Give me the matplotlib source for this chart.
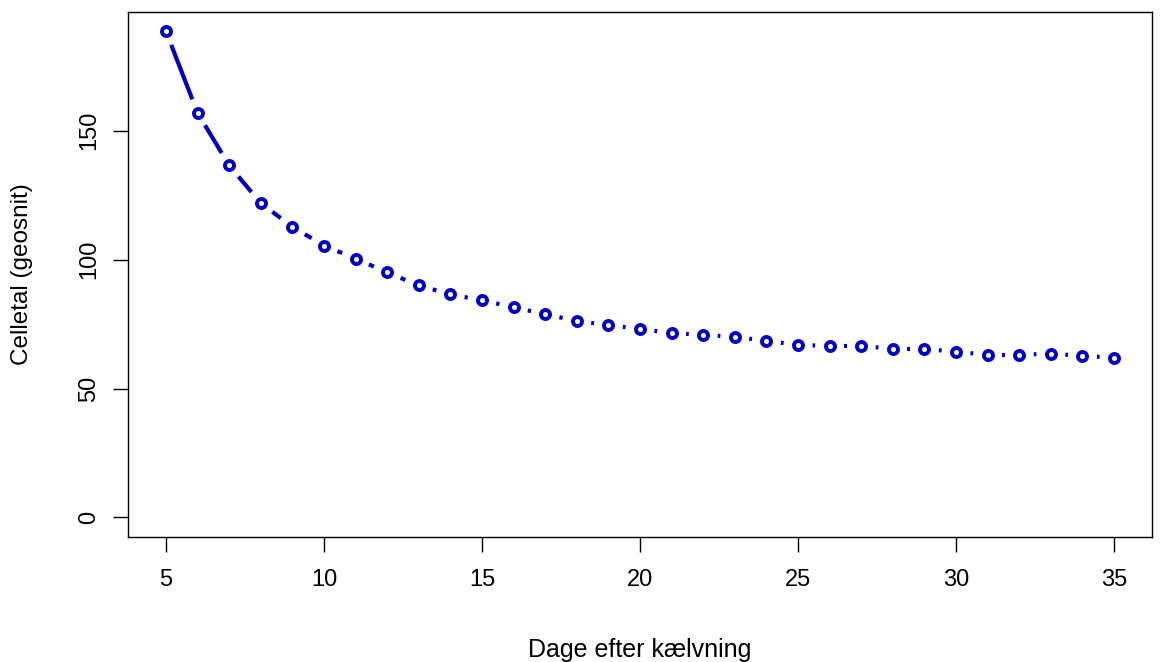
import numpy as np
import matplotlib
matplotlib.use("Agg")
import matplotlib.pyplot as plt

plt.rcParams['font.family'] = ['Liberation Sans', 'DejaVu Sans']

# Dage efter kælvning og celletal (geosnit)
dage = np.arange(5, 36)
celletal = [188.5, 156.9, 136.5, 121.9, 112.7, 105.4, 100.4, 95.0, 90.0, 86.5,
            84.2, 81.5, 78.8, 76.2, 74.6, 73.1, 71.5, 70.8, 70.0, 68.5,
            66.9, 66.5, 66.5, 65.4, 65.4, 64.2, 63.1, 63.1, 63.5, 62.7, 61.9]
x_ticks = [5, 10, 15, 20, 25, 30, 35]
y_ticks = [0, 50, 100, 150]

farve = '#0000CC'

fig = plt.figure(figsize=(11.66, 6.62), dpi=100)
ax = fig.add_axes([0.1098, 0.189, 0.988 - 0.1098, 0.982 - 0.189])

# R-agtige akser med 4% luft
xr = dage.max() - dage.min()
ax.set_xlim(dage.min() - 0.04 * xr, dage.max() + 0.04 * xr)
yr = max(celletal) - 0
ax.set_ylim(0 - 0.04 * yr, max(celletal) + 0.04 * yr)

# type="b": linjestykker mellem punkterne med et hul rundt om hvert punkt
ax.figure.canvas.draw()
pix = ax.transData.transform(np.column_stack([dage, celletal]))
gap = 14.5  # pixels
inv = ax.transData.inverted()
for i in range(len(pix) - 1):
    p0, p1 = pix[i], pix[i + 1]
    d = p1 - p0
    L = np.hypot(*d)
    if L <= 2 * gap:
        continue
    u = d / L
    a = inv.transform(p0 + u * gap)
    b = inv.transform(p1 - u * gap)
    ax.plot([a[0], b[0]], [a[1], b[1]], color=farve, lw=3.0,
            solid_capstyle='butt')

ax.plot(dage, celletal, linestyle='none', marker='o', markersize=6.5,
        markerfacecolor='none', markeredgecolor=farve, markeredgewidth=2.8)

ax.set_xticks(x_ticks)
ax.set_yticks(y_ticks)
ax.tick_params(axis='both', direction='out', length=11, width=1,
               labelsize=17, colors='black')
ax.tick_params(axis='x', pad=12)
ax.tick_params(axis='y', pad=9)
for lab in ax.get_yticklabels():
    lab.set_rotation(90)
    lab.set_va('center')
for s in ax.spines.values():
    s.set_linewidth(1)
    s.set_color('black')

ax.set_xlabel('Dage efter kælvning', fontsize=18, va='center')
ax.set_ylabel('Celletal (geosnit)', fontsize=17.5, va='center')
ax.xaxis.set_label_coords(0.5, -0.215)
ax.yaxis.set_label_coords(-0.1035, 0.5)

fig.savefig('out.png', dpi=100)
